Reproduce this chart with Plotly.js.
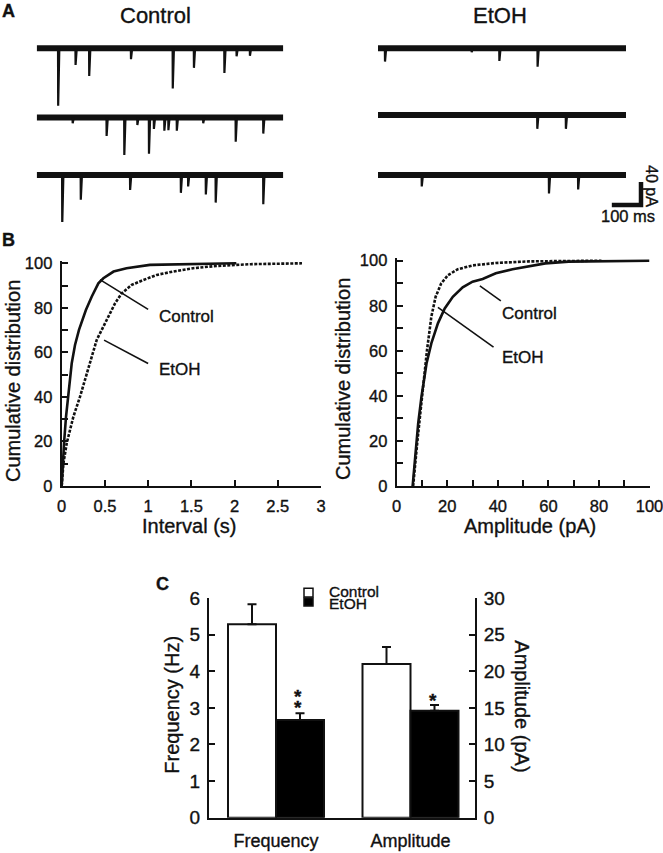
<!DOCTYPE html>
<html>
<head>
<meta charset="utf-8">
<script src="https://cdn.plot.ly/plotly-3.0.1.min.js"></script>
<style>
html,body{margin:0;padding:0;background:#fff}
#chart{width:663px;height:853px}
#chart svg text{stroke:#111;stroke-width:0.35px}
</style>
</head>
<body>
<div id="chart"></div>
<script>
// ================= DATA =================
// Panel A: spontaneous events (time in ms, amplitude in pA)
const traceLengthMs = 850;
const ctrlRow1Times = [74, 134, 181, 325, 469, 542, 647, 689, 735];
const ctrlRow1Amps  = [100, 29, 48, 19, 70, 34, 43, 14, 13];
const ctrlRow2Times = [124, 241, 302, 347, 387, 404, 440, 454, 483, 574, 686, 781];
const ctrlRow2Amps  = [10, 32, 65, 13, 63, 20, 23, 22, 23, 10, 42, 28];
const ctrlRow3Times = [88, 152, 322, 497, 522, 583, 617, 781];
const ctrlRow3Amps  = [87, 43, 26, 31, 20, 34, 48, 51];
const etohRow1Times = [24, 321, 416, 547];
const etohRow1Amps  = [23, 7, 22, 32];
const etohRow2Times = [546, 644];
const etohRow2Amps  = [24, 24];
const etohRow3Times = [150, 586, 686];
const etohRow3Amps  = [20, 32, 25];

// Panel B left: cumulative distribution of inter-event interval
const intervalCtrlX = [0, 0.012, 0.027, 0.05, 0.077, 0.116, 0.154, 0.2, 0.28, 0.347, 0.424, 0.482, 0.6, 0.75, 1.02, 1.6, 2.02];
const intervalCtrlY = [0, 10.2, 19.2, 31.1, 40.1, 55.1, 63.3, 70.1, 79, 85, 91, 93.3, 96.3, 97.8, 99.3, 99.9, 100];
const intervalEtohX = [0, 0.02, 0.058, 0.135, 0.212, 0.27, 0.32, 0.405, 0.463, 0.54, 0.617, 0.694, 0.81, 0.945, 1.1, 1.29, 1.52, 1.79, 2.18, 2.78];
const intervalEtohY = [0, 10.2, 19.2, 31.1, 40.1, 47.6, 55.1, 65.6, 70.1, 76, 82, 86.5, 90.3, 92.5, 94.8, 96.3, 97.8, 98.8, 99.6, 100];

// Panel B right: cumulative distribution of amplitude
const ampCtrlX = [6.3, 6.8, 7.6, 8.5, 9.8, 11.8, 13.7, 16.3, 19, 22.2, 26.1, 30, 34, 39.2, 45.8, 52.3, 58.8, 68, 85, 100];
const ampCtrlY = [0, 7.1, 17.5, 27.8, 39.6, 54.4, 63.3, 72.2, 78.8, 84, 88.2, 90.7, 91.9, 94.4, 96.2, 97.6, 98.8, 99.6, 99.9, 100];
const ampEtohX = [6.5, 7.2, 8.1, 9.2, 10.5, 12, 13.7, 15.4, 17.6, 20.3, 24.2, 30, 39.2, 52.3, 81];
const ampEtohY = [0, 7.1, 18.9, 30.8, 45.6, 60.4, 75.1, 84, 89.9, 93.6, 96.2, 97.9, 99, 99.7, 100];

// Panel C: mean +/- SEM
const barCategories = ['Frequency', 'Amplitude'];
const freqMeans = [5.28, 2.67];     // Hz   [Control, EtOH]
const freqSems  = [0.55, 0.18];
const ampMeans  = [21.0, 14.6];     // pA   [Control, EtOH]
const ampSems   = [2.3, 0.8];
const groupNames = ['Control', 'EtOH'];

// ================= LAYOUT HELPERS =================
const W = 663, H = 853;
const fx = p => p / W;
const fy = p => 1 - p / H;
const FONT = 'Liberation Sans, Arial, Helvetica, sans-serif';
const INK = '#111111';

// Panel A scale: 40 pA = 23 px, 850 ms over ~247 px
const PA_PER_PX = 40 / 23;
const A_TOP = 30, A_BOT = 222, A_BASE = 48.3;
const ctrlOffsets = [0, -(117.5 - A_BASE) * PA_PER_PX, -(175 - A_BASE) * PA_PER_PX];
const etohOffsets = [0, -(115 - A_BASE) * PA_PER_PX, -(175 - A_BASE) * PA_PER_PX];
const ETOH_X0 = 378, ETOH_X850 = 626, ETOH_XEND = 652;
const msPerPxEtoh = traceLengthMs / (ETOH_X850 - ETOH_X0);

function baselineTrace(off, xa, ya) {
  return {x: [0, traceLengthMs], y: [off, off], mode: 'lines', xaxis: xa, yaxis: ya,
          line: {color: INK, width: 6}, hoverinfo: 'skip'};
}
function eventTrace(times, amps, off, xa, ya) {
  const x = [], y = [];
  times.forEach((t, i) => {
    x.push(t - 0.5, t, t + 4, null);
    y.push(off, off - amps[i], off, null);
  });
  return {x, y, mode: 'lines', xaxis: xa, yaxis: ya, connectgaps: false,
          line: {color: INK, width: 2.2}, hoverinfo: 'skip'};
}

const data = [];
const ctrlRows = [[ctrlRow1Times, ctrlRow1Amps], [ctrlRow2Times, ctrlRow2Amps], [ctrlRow3Times, ctrlRow3Amps]];
const etohRows = [[etohRow1Times, etohRow1Amps], [etohRow2Times, etohRow2Amps], [etohRow3Times, etohRow3Amps]];
ctrlRows.forEach((r, i) => {
  data.push(baselineTrace(ctrlOffsets[i], 'x', 'y'));
  data.push(eventTrace(r[0], r[1], ctrlOffsets[i], 'x', 'y'));
});
etohRows.forEach((r, i) => {
  data.push(baselineTrace(etohOffsets[i], 'x2', 'y2'));
  data.push(eventTrace(r[0], r[1], etohOffsets[i], 'x2', 'y2'));
});

// Panel B curves
const solid = {color: INK, width: 2.6};
const dashed = {color: INK, width: 2.6, dash: '3px,1.5px'};
data.push({x: intervalEtohX, y: intervalEtohY, mode: 'lines', xaxis: 'x3', yaxis: 'y3', line: dashed, name: 'EtOH'});
data.push({x: intervalCtrlX, y: intervalCtrlY, mode: 'lines', xaxis: 'x3', yaxis: 'y3', line: solid, name: 'Control'});
data.push({x: ampEtohX, y: ampEtohY, mode: 'lines', xaxis: 'x4', yaxis: 'y4', line: dashed, name: 'EtOH'});
data.push({x: ampCtrlX, y: ampCtrlY, mode: 'lines', xaxis: 'x4', yaxis: 'y4', line: solid, name: 'Control'});

// Panel C bars
const C_X0 = 209, C_X1 = 475, C_CAT0 = 276, C_CAT1 = 410.5;
const catPx = C_CAT1 - C_CAT0;
const BW = 48 / catPx;
const fills = ['#ffffff', '#000000'];
function errSpec(sem) {
  return {type: 'data', array: [sem], arrayminus: [0], symmetric: false, color: INK, thickness: 2, width: 4.5};
}
[0, 1].forEach(g => {
  data.push({type: 'bar', x: [barCategories[0]], y: [freqMeans[g]], xaxis: 'x5', yaxis: 'y5',
    name: groupNames[g], offset: g === 0 ? -BW : 0, width: BW,
    marker: {color: fills[g], line: {color: INK, width: 2}}, error_y: errSpec(freqSems[g])});
  data.push({type: 'bar', x: [barCategories[1]], y: [ampMeans[g]], xaxis: 'x5', yaxis: 'y6',
    name: groupNames[g], offset: g === 0 ? -BW : 0, width: BW,
    marker: {color: fills[g], line: {color: INK, width: 2}}, error_y: errSpec(ampSems[g])});
});

// ================= AXES =================
const tickFontB = {family: FONT, size: 16.5, color: INK};
const tickFontC = {family: FONT, size: 19, color: INK};
const hidden = {visible: false, fixedrange: true};
const B_Y0 = 486, B_PX_PER_PCT_L = (486 - 263.3) / 100, B_PX_PER_PCT_R = (486 - 260.7) / 100;
const Y_EXT = 101.2;
const minorB = {tickvals: [10, 30, 50, 70, 90], ticks: 'inside', ticklen: 6, tickwidth: 2, tickcolor: INK, showgrid: false};
const axB = (extra) => Object.assign({
  showline: true, linecolor: INK, linewidth: 2, ticks: 'inside', ticklen: 6, tickwidth: 2, tickcolor: INK,
  showgrid: false, zeroline: false, tickfont: tickFontB, fixedrange: true, ticklabeloverflow: 'allow'
}, extra);

const layout = {
  width: W, height: H, margin: {l: 0, r: 0, t: 0, b: 0}, paper_bgcolor: '#fff', plot_bgcolor: 'rgba(0,0,0,0)',
  showlegend: false, hovermode: false, font: {family: FONT, color: INK},
  xaxis: Object.assign({}, hidden, {domain: [fx(36.7), fx(283.3)], range: [0, traceLengthMs], anchor: 'y'}),
  yaxis: Object.assign({}, hidden, {domain: [fy(A_BOT), fy(A_TOP)], range: [-(A_BOT - A_BASE) * PA_PER_PX, (A_BASE - A_TOP) * PA_PER_PX], anchor: 'x'}),
  xaxis2: Object.assign({}, hidden, {domain: [fx(ETOH_X0), fx(ETOH_XEND)], range: [0, (ETOH_XEND - ETOH_X0) * msPerPxEtoh], anchor: 'y2'}),
  yaxis2: Object.assign({}, hidden, {domain: [fy(A_BOT), fy(A_TOP)], range: [-(A_BOT - A_BASE) * PA_PER_PX, (A_BASE - A_TOP) * PA_PER_PX], anchor: 'x2'}),
  xaxis3: axB({domain: [fx(61.7), fx(321)], range: [0, 3], dtick: 0.5, tick0: 0, anchor: 'y3', ticklabelstandoff: 4}),
  yaxis3: axB({domain: [fy(B_Y0), fy(B_Y0 - Y_EXT * B_PX_PER_PCT_L)], range: [0, Y_EXT], tickvals: [0, 20, 40, 60, 80, 100], anchor: 'x3',
    minor: minorB, ticklabelstandoff: 4}),
  xaxis4: axB({domain: [fx(396.7), fx(649.5)], range: [0, 100], tickvals: [0, 20, 40, 60, 80, 100], anchor: 'y4',
    minor: minorB, ticklabelstandoff: 4}),
  yaxis4: axB({domain: [fy(B_Y0), fy(B_Y0 - Y_EXT * B_PX_PER_PCT_R)], range: [0, Y_EXT], tickvals: [0, 20, 40, 60, 80, 100], anchor: 'x4',
    minor: minorB, ticklabelstandoff: 4}),
  xaxis5: {domain: [fx(C_X0), fx(C_X1)], type: 'category', categoryorder: 'array', categoryarray: barCategories,
    range: [(C_X0 - C_CAT0) / catPx, 1 + (C_X1 - C_CAT1) / catPx], anchor: 'y5',
    showline: true, linecolor: INK, linewidth: 2, ticks: '', showgrid: false, zeroline: false,
    tickfont: {family: FONT, size: 18, color: INK}, ticklabelstandoff: 6, fixedrange: true},
  yaxis5: {domain: [fy(817.7), fy(598)], range: [0, 6], dtick: 1, anchor: 'x5',
    showline: true, linecolor: INK, linewidth: 2, ticks: 'inside', ticklen: 6, tickwidth: 2, tickcolor: INK,
    showgrid: false, zeroline: false, tickfont: tickFontC, ticklabelstandoff: 3, fixedrange: true},
  yaxis6: {overlaying: 'y5', side: 'right', anchor: 'x5', range: [0, 30], dtick: 5,
    showline: true, linecolor: INK, linewidth: 2, ticks: 'inside', ticklen: 6, tickwidth: 2, tickcolor: INK,
    showgrid: false, zeroline: false, tickfont: tickFontC, ticklabelstandoff: 3, fixedrange: true},
  shapes: [],
  annotations: []
};

// Scale bar (100 ms, 40 pA) on the EtOH trace axes
const sbRightMs = (641 - ETOH_X0) * msPerPxEtoh;
const sbBottomPa = -(205 - A_BASE) * PA_PER_PX;
layout.shapes.push({type: 'path', xref: 'x2', yref: 'y2',
  path: `M ${sbRightMs - 100} ${sbBottomPa} L ${sbRightMs} ${sbBottomPa} L ${sbRightMs} ${sbBottomPa + 40}`,
  line: {color: INK, width: 4.5}});

// Pointer lines in panel B
const ptr = (xa, ya, x0, y0, x1, y1) => ({type: 'line', xref: xa, yref: ya, x0, y0, x1, y1, line: {color: INK, width: 1.6}});
layout.shapes.push(ptr('x3', 'y3', 1.0, 79.3, 0.443, 92.7));
layout.shapes.push(ptr('x3', 'y3', 1.0, 55.0, 0.49, 65.5));
layout.shapes.push(ptr('x4', 'y4', 41.2, 82.2, 32.9, 88.8));
layout.shapes.push(ptr('x4', 'y4', 38.3, 61.6, 16.3, 79.3));

// Manual legend for panel C
layout.shapes.push({type: 'rect', xref: 'paper', yref: 'paper', x0: fx(304), x1: fx(313), y0: fy(597), y1: fy(588.3),
  fillcolor: '#fff', line: {color: INK, width: 1.5}});
layout.shapes.push({type: 'rect', xref: 'paper', yref: 'paper', x0: fx(304), x1: fx(313), y0: fy(606), y1: fy(598),
  fillcolor: '#000', line: {color: INK, width: 1.5}});

// ================= TEXT =================
function txt(text, px, py, opts) {
  return Object.assign({text, xref: 'paper', yref: 'paper', x: fx(px), y: fy(py), showarrow: false,
    xanchor: 'center', yanchor: 'middle', font: {family: FONT, size: 17, color: INK}}, opts || {});
}
const A = layout.annotations;
A.push(txt('<b>A</b>', 8, 11, {font: {family: FONT, size: 18, color: INK}}));
A.push(txt('<b>B</b>', 8, 240, {font: {family: FONT, size: 18, color: INK}}));
A.push(txt('<b>C</b>', 162.5, 583.5, {font: {family: FONT, size: 18, color: INK}}));
A.push(txt('Control', 155, 16, {font: {family: FONT, size: 22, color: INK}}));
A.push(txt('EtOH', 500, 16, {font: {family: FONT, size: 22, color: INK}}));
A.push(txt('40 pA', 652, 186, {textangle: 90, font: {family: FONT, size: 16, color: INK}}));
A.push(txt('100 ms', 628, 216, {font: {family: FONT, size: 16.5, color: INK}}));

// Panel B titles and labels
A.push(txt('Cumulative distribution', 13, 381, {textangle: -90, font: {family: FONT, size: 20, color: INK}}));
A.push(txt('Cumulative distribution', 343, 379, {textangle: -90, font: {family: FONT, size: 20, color: INK}}));
A.push(txt('Interval (s)', 189, 526, {font: {family: FONT, size: 20, color: INK}}));
A.push(txt('Amplitude (pA)', 530, 526, {font: {family: FONT, size: 20, color: INK}}));
A.push(txt('Control', 157, 317, {xanchor: 'left'}));
A.push(txt('EtOH', 157, 369.5, {xanchor: 'left'}));
A.push(txt('Control', 500, 313.5, {xanchor: 'left'}));
A.push(txt('EtOH', 500, 357, {xanchor: 'left'}));

// Panel C titles, legend text, significance stars
A.push(txt('Frequency (Hz)', 171.7, 705, {textangle: -90, font: {family: FONT, size: 20, color: INK}}));
A.push(txt('Amplitude (pA)', 521.7, 706, {textangle: 90, font: {family: FONT, size: 20, color: INK}}));
A.push(txt('Control', 327, 591.5, {xanchor: 'left', font: {family: FONT, size: 15.5, color: INK}}));
A.push(txt('EtOH', 327, 603, {xanchor: 'left', font: {family: FONT, size: 15.5, color: INK}}));
const star = (x, yref, y, shift) => ({text: '<b>*</b>', xref: 'x5', yref, x, y, yshift: shift, showarrow: false,
  xanchor: 'center', yanchor: 'middle', font: {family: FONT, size: 19, color: INK}});
A.push(star(BW / 2 - 0.015, 'y5', freqMeans[1] + freqSems[1], 6));
A.push(star(BW / 2 - 0.015, 'y5', freqMeans[1] + freqSems[1], 17));
A.push(star(1 + BW / 2 - 0.01, 'y6', ampMeans[1] + ampSems[1], 4));

Plotly.newPlot('chart', data, layout, {staticPlot: true, displayModeBar: false});
</script>
</body>
</html>
